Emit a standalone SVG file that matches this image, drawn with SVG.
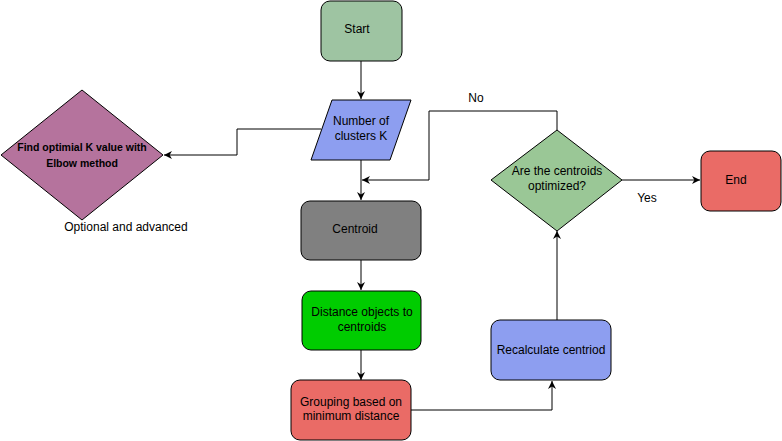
<svg xmlns="http://www.w3.org/2000/svg" width="782" height="441" viewBox="0 0 782 441">
<style>
.n{stroke:#000;stroke-width:1}
.t{font-family:"Liberation Sans",Arial,sans-serif;font-size:12px;fill:#000;text-anchor:middle}
.b{font-family:"Liberation Sans",Arial,sans-serif;font-size:10.5px;font-weight:bold;fill:#000;text-anchor:middle}
.c{fill:none;stroke:#000;stroke-width:1}
</style>
<defs>
<marker id="a" viewBox="0 0 10 10" refX="10" refY="5" markerWidth="8" markerHeight="8" orient="auto" markerUnits="userSpaceOnUse">
<path d="M0,0 L10,5 L0,10 L3,5 Z" fill="#000"/>
</marker>
</defs>
<rect width="782" height="441" fill="#fff"/>
<g id="connectors">
<path class="c" d="M361,61 V99" marker-end="url(#a)"/>
<path class="c" d="M321,129 H237 V155 H164" marker-end="url(#a)"/>
<path class="c" d="M361,160 V200" marker-end="url(#a)"/>
<path class="c" d="M557,130 V111 H429 V180 H362" marker-end="url(#a)"/>
<path class="c" d="M361,260 V290" marker-end="url(#a)"/>
<path class="c" d="M361,350 V380" marker-end="url(#a)"/>
<path class="c" d="M411,410 H552 V381" marker-end="url(#a)"/>
<path class="c" d="M557,320 V231" marker-end="url(#a)"/>
<path class="c" d="M622,180 H700" marker-end="url(#a)"/>
<text class="t" x="476" y="102">No</text>
<text class="t" x="647" y="202">Yes</text>
</g>
<g id="start">
<rect class="n" x="321" y="1" width="81" height="60" rx="9" fill="#9EC4A2"/>
<text class="t" x="357" y="33">Start</text>
</g>
<g id="numk">
<path class="n" d="M332,100 H411 L390,160 H311 Z" fill="#8D9EF0" stroke-width="1.5"/>
<text class="t" x="361" y="125">Number of</text>
<text class="t" x="361" y="140">clusters K</text>
</g>
<g id="elbow">
<path class="n" d="M82,90 L163,155 L82,220 L1,155 Z" fill="#B5739D"/>
<text class="b" x="82" y="151">Find optimial K value with</text>
<text class="b" x="82" y="167">Elbow method</text>
<text class="t" x="126" y="231">Optional and advanced</text>
</g>
<g id="centroid">
<rect class="n" x="301" y="201" width="120" height="59" rx="9" fill="#808080"/>
<text class="t" x="355" y="233">Centroid</text>
</g>
<g id="distance">
<rect class="n" x="302" y="291" width="119" height="59" rx="9" fill="#00CC00"/>
<text class="t" x="362" y="316">Distance objects to</text>
<text class="t" x="362" y="331">centroids</text>
</g>
<g id="grouping">
<rect class="n" x="291" y="380" width="120" height="60" rx="9" fill="#EA6B66"/>
<text class="t" x="351" y="406">Grouping based on</text>
<text class="t" x="351" y="420">minimum distance</text>
</g>
<g id="recalc">
<rect class="n" x="491" y="320" width="120" height="60" rx="9" fill="#8D9EF0"/>
<text class="t" x="551" y="354">Recalculate centriod</text>
</g>
<g id="decision">
<path class="n" d="M557,130 L622,180 L557,231 L491,180 Z" fill="#9AC796" stroke-width="1.5"/>
<text class="t" x="557" y="175">Are the centroids</text>
<text class="t" x="557" y="190">optimized?</text>
</g>
<g id="end">
<rect class="n" x="701" y="151" width="80" height="60" rx="9" fill="#EA6B66"/>
<text class="t" x="736" y="184">End</text>
</g>
</svg>
